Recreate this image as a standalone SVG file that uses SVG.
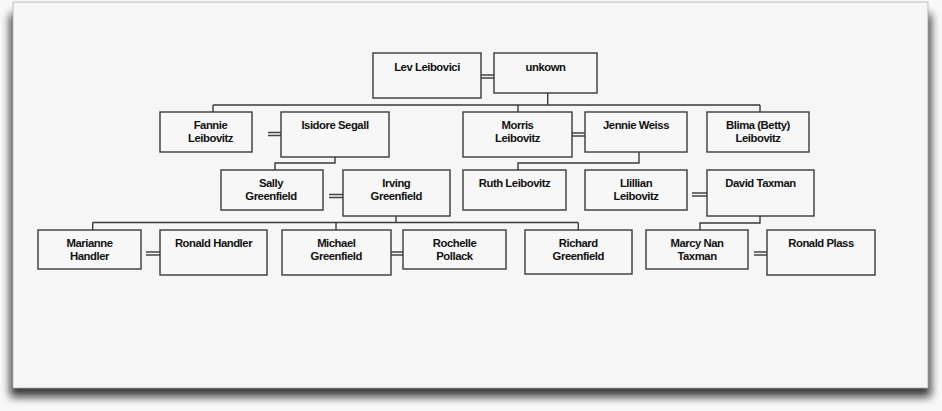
<svg xmlns="http://www.w3.org/2000/svg" width="942" height="411" viewBox="0 0 942 411">
<defs>
<filter id="sh" x="-5%" y="-5%" width="110%" height="115%"><feGaussianBlur stdDeviation="4"/></filter>
<style>
.bx{fill:#f7f7f7;stroke:#3a3a3a;stroke-width:1.4}
.t{font-family:"Liberation Sans",Arial,sans-serif;font-size:11.3px;font-weight:bold;letter-spacing:-0.45px;fill:#111;text-anchor:middle}
.c{fill:none;stroke:#3a3a3a;stroke-width:1.4}
.d{fill:none;stroke:#444;stroke-width:1.3}
</style>
</defs>
<rect x="0" y="0" width="942" height="411" fill="#f8f8f8"/>
<rect x="10" y="14" width="921" height="383" fill="#111" opacity="0.8" filter="url(#sh)"/>
<rect x="13" y="2" width="915" height="386" fill="#f6f6f6" stroke="#b0b0b0" stroke-width="0.8"/>
<g id="connectors">
<path class="d" d="M481 75H494M481 78H494"/>
<path class="c" d="M547.7 93V105M213 105H760M213 105V112M518 105V112M760 105V112"/>
<path class="d" d="M268 132.5H281M268 135.5H281"/>
<path class="c" d="M335 157V163H275V170"/>
<path class="d" d="M572 133H585M572 136H585"/>
<path class="c" d="M639 152V163H518V170"/>
<path class="d" d="M329 194.5H343M329 197.5H343"/>
<path class="d" d="M692 193H707M692 196H707"/>
<path class="c" d="M396 216V222.5M92.7 222.5H578.3M92.7 222.5V230M336 222.5V230M578.3 222.5V230"/>
<path class="c" d="M760 216V223H700V230"/>
<path class="d" d="M146 252H160M146 255H160"/>
<path class="d" d="M391 252H403M391 255H403"/>
<path class="d" d="M754 252H767M754 255H767"/>
</g>
<g id="lev"><rect class="bx" x="373" y="53" width="108" height="45"/><text class="t" x="427" y="71">Lev Leibovici</text></g>
<g id="unkown"><rect class="bx" x="494" y="53" width="103" height="40"/><text class="t" x="545.5" y="71">unkown</text></g>
<g id="fannie"><rect class="bx" x="160" y="112" width="92" height="40"/><text class="t" x="210.5" y="129">Fannie</text><text class="t" x="210.5" y="142">Leibovitz</text></g>
<g id="isidore"><rect class="bx" x="281" y="112" width="108" height="45"/><text class="t" x="335" y="129">Isidore Segall</text></g>
<g id="morris"><rect class="bx" x="463" y="112" width="109" height="45"/><text class="t" x="517.5" y="129">Morris</text><text class="t" x="517.5" y="142">Leibovitz</text></g>
<g id="jennie"><rect class="bx" x="585" y="112" width="102" height="40"/><text class="t" x="636" y="129">Jennie Weiss</text></g>
<g id="blima"><rect class="bx" x="707" y="112" width="102" height="40"/><text class="t" x="758" y="129">Blima (Betty)</text><text class="t" x="758" y="142">Leibovitz</text></g>
<g id="sally"><rect class="bx" x="221" y="170" width="102" height="40"/><text class="t" x="271" y="187">Sally</text><text class="t" x="271" y="200">Greenfield</text></g>
<g id="irving"><rect class="bx" x="343" y="170" width="107" height="46"/><text class="t" x="396.3" y="187">Irving</text><text class="t" x="396.3" y="200">Greenfield</text></g>
<g id="ruth"><rect class="bx" x="463" y="170" width="103" height="40"/><text class="t" x="514.5" y="187">Ruth Leibovitz</text></g>
<g id="lillian"><rect class="bx" x="585" y="170" width="102" height="40"/><text class="t" x="636" y="187">Llillian</text><text class="t" x="636" y="200">Leibovitz</text></g>
<g id="david"><rect class="bx" x="707" y="170" width="107" height="46"/><text class="t" x="760.5" y="187">David Taxman</text></g>
<g id="marianne"><rect class="bx" x="38" y="230" width="103" height="39"/><text class="t" x="89.5" y="247">Marianne</text><text class="t" x="89.5" y="260">Handler</text></g>
<g id="ronald-handler"><rect class="bx" x="160" y="230" width="107" height="45"/><text class="t" x="213.5" y="247">Ronald Handler</text></g>
<g id="michael"><rect class="bx" x="282" y="230" width="109" height="45"/><text class="t" x="336.3" y="247">Michael</text><text class="t" x="336.3" y="260">Greenfield</text></g>
<g id="rochelle"><rect class="bx" x="403" y="230" width="103" height="39"/><text class="t" x="454.5" y="247">Rochelle</text><text class="t" x="454.5" y="260">Pollack</text></g>
<g id="richard"><rect class="bx" x="525" y="230" width="107" height="44"/><text class="t" x="578.3" y="247">Richard</text><text class="t" x="578.3" y="260">Greenfield</text></g>
<g id="marcy"><rect class="bx" x="646" y="230" width="102" height="39"/><text class="t" x="697" y="247">Marcy Nan</text><text class="t" x="697" y="260">Taxman</text></g>
<g id="ronald-plass"><rect class="bx" x="767" y="230" width="108" height="45"/><text class="t" x="821" y="247">Ronald Plass</text></g>
</svg>
